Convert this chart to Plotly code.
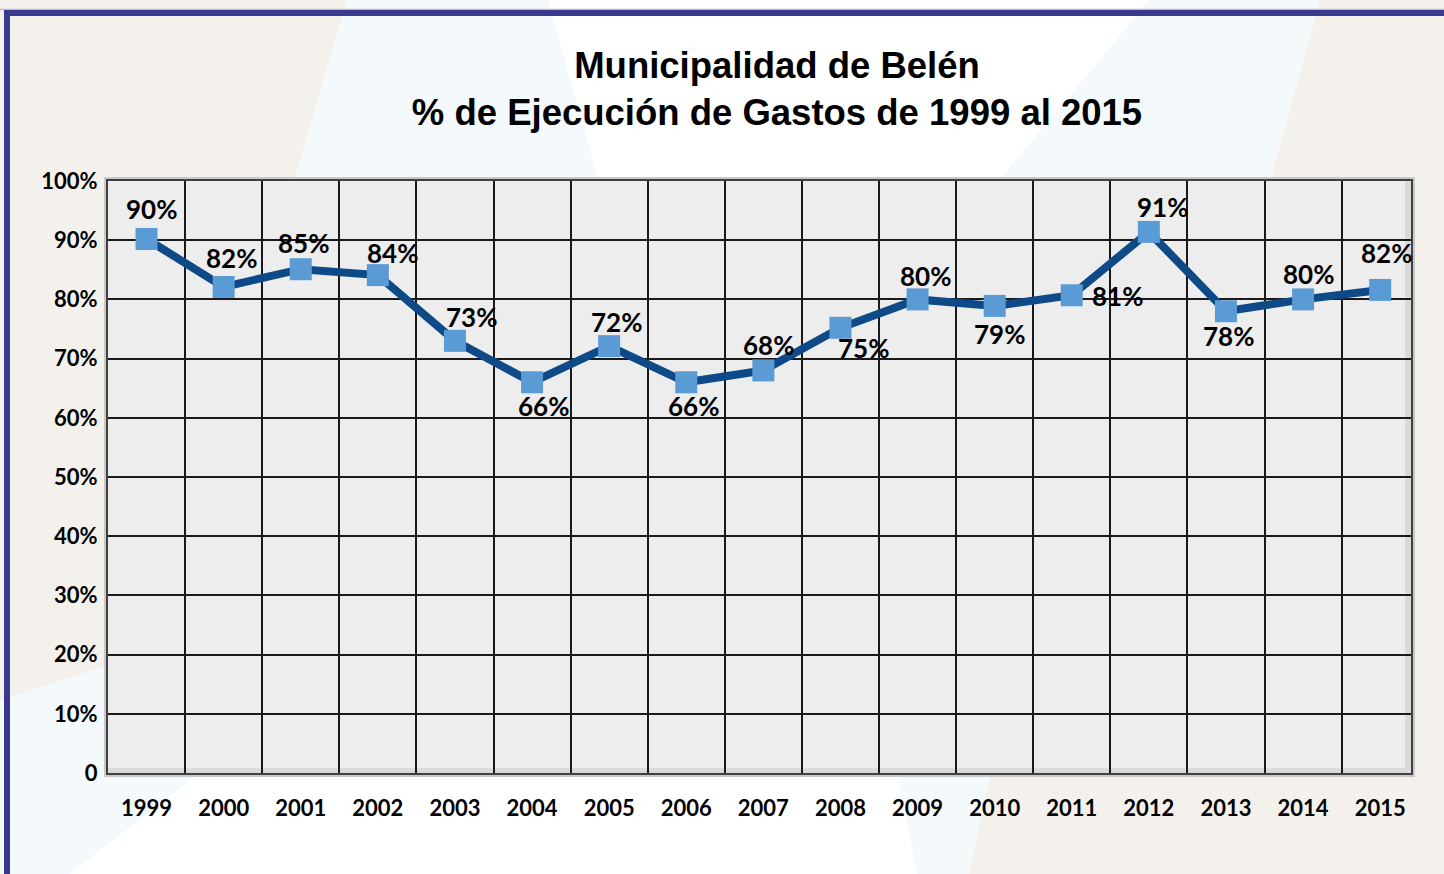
import plotly.graph_objects as go

# ---------------- data ----------------
years = [1999, 2000, 2001, 2002, 2003, 2004, 2005, 2006, 2007, 2008,
         2009, 2010, 2011, 2012, 2013, 2014, 2015]
year_labels = [str(y) for y in years]
execution = [0.902, 0.821, 0.851, 0.841, 0.730, 0.660, 0.721, 0.660, 0.680, 0.752,
             0.800, 0.789, 0.807, 0.914, 0.780, 0.800, 0.816]
y_tickvals = [0, 0.1, 0.2, 0.3, 0.4, 0.5, 0.6, 0.7, 0.8, 0.9, 1.0]
y_ticktext = ["0", "10%", "20%", "30%", "40%", "50%", "60%", "70%", "80%", "90%", "100%"]
title_lines = ["Municipalidad de Belén", "% de Ejecución de Gastos de 1999 al 2015"]

# ---------------- style ----------------
W, H = 1444, 874
PL, PR, PT, PB = 108, 1411, 181, 773

def px(x):
    return (x - PL) / (PR - PL)

def py(y):
    return (PB - y) / (PB - PT)

# label offsets (pixels: dx right, dy down) per point
label_offsets = [(5, -30), (8, -29), (3, -26), (15, -22), (17, -24), (11, 24), (7, -24),
                 (7, 24), (5, -25), (23, 20), (8, -23), (5, 28), (46, 1), (14, -25),
                 (3, 25), (5, -25), (6, -37)]

BEIGE = "#F4F1EC"
LBLUE = "#F4F9FC"

def poly(points, color):
    d = "M " + " L ".join(f"{px(x):.5f},{py(y):.5f}" for x, y in points) + " Z"
    return dict(type="path", xref="paper", yref="paper", path=d,
                fillcolor=color, line=dict(width=0), layer="below")

shapes = [
    # background facets
    poly([(0, 0), (347, 0), (158, 650), (0, 700)], BEIGE),
    poly([(347, 0), (548, 0), (663, 411), (70, 874), (0, 874), (0, 700), (158, 650)], LBLUE),
    poly([(1150, 0), (1320, 0), (1272, 175), (989, 780), (969, 874), (917, 874), (899, 780), (1003, 175)], LBLUE),
    poly([(1320, 0), (1444, 0), (1444, 874), (969, 874), (989, 780), (1272, 175)], BEIGE),
    # plot area shadow + background
    dict(type="rect", xref="paper", yref="paper", x0=px(104), x1=px(1415), y0=py(777), y1=py(177),
         fillcolor="#C9C9C9", line=dict(width=0), layer="below"),
    dict(type="rect", xref="paper", yref="paper", x0=0, x1=1, y0=0, y1=1,
         fillcolor="#EDEDED", line=dict(width=0), layer="below"),
    dict(type="rect", xref="paper", yref="paper", x0=px(1405), x1=1, y0=0, y1=1,
         fillcolor="#DADADA", line=dict(width=0), layer="below"),
    dict(type="rect", xref="paper", yref="paper", x0=0, x1=1, y0=0, y1=py(768),
         fillcolor="#DADADA", line=dict(width=0), layer="below"),
    # outer frame
    dict(type="line", xref="paper", yref="paper", x0=px(0), x1=px(1450), y0=py(9.5), y1=py(9.5),
         line=dict(color="#B8BCC8", width=1.5), layer="above"),
    dict(type="path", xref="paper", yref="paper",
         path=f"M {px(7):.5f},{py(880):.5f} L {px(7):.5f},{py(13):.5f} L {px(1450):.5f},{py(13):.5f}",
         line=dict(color="#373A8E", width=6), layer="above"),
]

fig = go.Figure()
fig.add_trace(go.Scatter(
    x=years, y=execution, mode="lines+markers",
    line=dict(color="#0E4A88", width=8),
    marker=dict(symbol="square", size=22, color="#5B9BD5", line=dict(width=0)),
    hoverinfo="skip", showlegend=False, cliponaxis=False,
))

annotations = []
for yr, v, (dx, dy) in zip(years, execution, label_offsets):
    annotations.append(dict(
        x=yr, y=v, xref="x", yref="y", text=f"{v*100:.0f}%", showarrow=False,
        xshift=dx, yshift=-dy, xanchor="center", yanchor="middle",
        font=dict(family="Lato", size=26, color="black", weight="bold"),
    ))

fig.update_layout(
    width=W, height=H,
    margin=dict(l=PL, r=W - PR, t=PT, b=H - PB, pad=0),
    paper_bgcolor="white",
    plot_bgcolor="rgba(0,0,0,0)",
    shapes=shapes,
    annotations=annotations,
    title=dict(
        text="<b>" + title_lines[0] + "<br>" + title_lines[1] + "</b>",
        x=777 / W, xref="container", xanchor="center",
        y=1 - 78 / H, yref="container", yanchor="middle",
        font=dict(family="Liberation Sans, Arial", size=36.5, color="black"),
    ),
    xaxis=dict(
        range=[1998.5, 2015.4], tickmode="array", tickvals=years, ticktext=year_labels,
        showgrid=False, zeroline=False,
        showline=True, mirror=True, linecolor="#404040", linewidth=2,
        ticks="outside", ticklen=15, tickcolor="rgba(0,0,0,0)",
        tickfont=dict(family="Lato", size=22, color="black", weight="bold"),
        minor=dict(tickmode="linear", tick0=1998.5, dtick=1, showgrid=True,
                   gridcolor="#1A1A1A", gridwidth=1.5, ticks=""),
        fixedrange=True,
    ),
    yaxis=dict(
        range=[0, 1], tickmode="array", tickvals=y_tickvals, ticktext=y_ticktext,
        showgrid=True, gridcolor="#1A1A1A", gridwidth=1.5, zeroline=False,
        showline=True, mirror=True, linecolor="#404040", linewidth=2,
        ticks="outside", ticklen=4, tickcolor="rgba(0,0,0,0)",
        tickfont=dict(family="Lato", size=22, color="black", weight="bold"),
        fixedrange=True,
    ),
)

fig.write_html("out.html", config={"displayModeBar": False},
               post_script="document.body.style.margin='0';document.body.style.padding='0';")
